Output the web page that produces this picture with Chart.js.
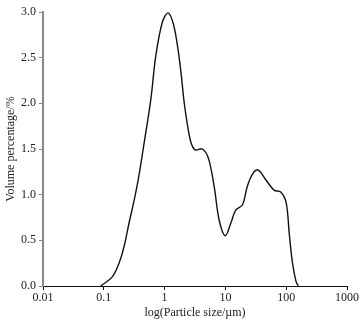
<!DOCTYPE html>
<html>
<head>
<meta charset="utf-8">
<script src="https://cdn.jsdelivr.net/npm/chart.js@4/dist/chart.umd.min.js"></script>
<style>
html, body { margin: 0; padding: 0; background: #fff; }
#box { width: 364px; height: 323px; }
</style>
</head>
<body>
<div id="box"><canvas id="grafico"></canvas></div>
<script>
// particle size (µm) and volume percentage
const tamanhos = [0.089, 0.138, 0.178, 0.215, 0.26, 0.316, 0.372, 0.459, 0.593, 0.716, 0.92, 1.14, 1.38, 1.62, 1.85, 2.09, 2.38, 2.69, 3.16, 4.17, 5.25, 6.53, 7.91, 9.93, 12.3, 14.8, 19.1, 22.9, 28.2, 34.7, 46.5, 63.1, 81.3, 100, 112, 127, 145, 158]
const volumes = [0, 0.10, 0.25, 0.43, 0.69, 0.94, 1.18, 1.56, 2.04, 2.52, 2.89, 2.99, 2.88, 2.64, 2.35, 2.02, 1.76, 1.58, 1.49, 1.50, 1.40, 1.09, 0.72, 0.55, 0.69, 0.83, 0.89, 1.09, 1.23, 1.27, 1.16, 1.05, 1.03, 0.91, 0.58, 0.25, 0.05, 0]

const xTicks = [0.01, 0.1, 1, 10, 100, 1000]
const yTicks = [0, 0.5, 1, 1.5, 2, 2.5, 3]

const pontos = tamanhos.map((t, i) => ({ x: t, y: volumes[i] }))

const fonte = { family: "'Liberation Serif', 'Times New Roman', serif", size: 12 }

const ctx = document.getElementById("grafico").getContext("2d")

new Chart(ctx, {
  type: "line",
  data: {
    datasets: [{
      data: pontos,
      borderColor: "#111",
      borderWidth: 1.4,
      pointRadius: 0,
      fill: false,
      tension: 0.35
    }]
  },
  options: {
    responsive: true,
    maintainAspectRatio: false,
    animation: false,
    layout: { padding: { top: 12, right: 17, left: 0, bottom: 0 } },
    plugins: { legend: { display: false }, tooltip: { enabled: false } },
    scales: {
      x: {
        type: "logarithmic",
        min: 0.01,
        max: 1000,
        afterBuildTicks: s => { s.ticks = xTicks.map(v => ({ value: v })) },
        afterFit: s => { s.height = 37 },
        ticks: {
          color: "#222",
          font: fonte,
          padding: 1,
          maxRotation: 0,
          autoSkip: false,
          callback: v => String(v)
        },
        grid: { drawOnChartArea: false, tickLength: 4, color: "#111" },
        border: { color: "#111", width: 1 },
        title: { display: true, text: "log(Particle size/µm)", color: "#222", font: fonte, padding: { top: 0, bottom: 3 } }
      },
      y: {
        min: 0,
        max: 3,
        afterBuildTicks: s => { s.ticks = yTicks.map(v => ({ value: v })) },
        afterFit: s => { s.width = 43 },
        ticks: {
          color: "#222",
          font: fonte,
          padding: 3,
          callback: v => v.toFixed(1)
        },
        grid: { drawOnChartArea: false, tickLength: 4, color: "#888" },
        border: { color: "#888", width: 2 },
        title: { display: true, text: "Volume percentage/%", color: "#222", font: fonte, padding: { top: 4, bottom: 4 } }
      }
    }
  }
})
</script>
</body>
</html>
